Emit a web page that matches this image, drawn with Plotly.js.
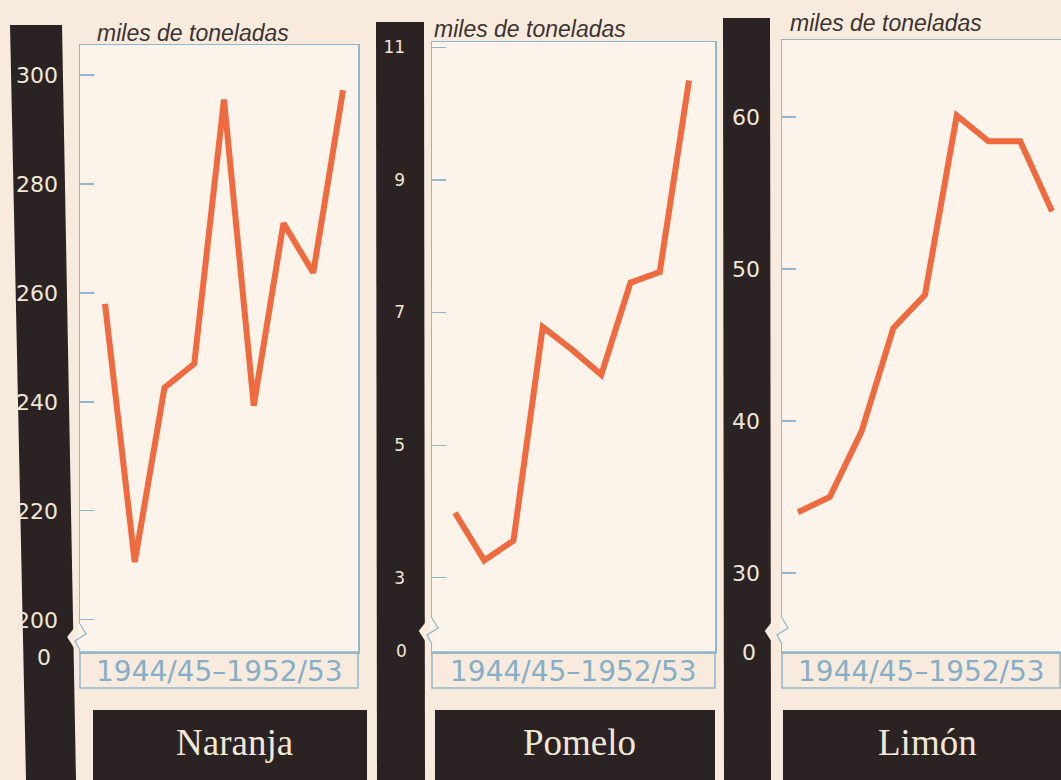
<!DOCTYPE html>
<html>
<head>
<meta charset="utf-8">
<script src="https://cdn.plot.ly/plotly-3.0.1.min.js"></script>
<style>html,body{margin:0;padding:0;background:#f8eadc;}#chart{width:1061px;height:780px;}</style>
</head>
<body>
<div id="chart"></div>
<script>
// ---- data ----
const seasons = ['1944/45','1945/46','1946/47','1947/48','1948/49','1949/50','1950/51','1951/52','1952/53'];
const naranja = [258, 210.6, 242.6, 247, 295.5, 239.3, 272.8, 263.7, 297.2];
const pomelo  = [3.98, 3.26, 3.56, 6.78, 6.44, 6.06, 7.45, 7.61, 10.5];
const limon   = [34.0, 35.0, 39.3, 46.1, 48.3, 60.1, 58.4, 58.4, 53.8];
const naranjaTicks = [200, 220, 240, 260, 280, 300];
const pomeloTicks  = [3, 5, 7, 9, 11];
const limonTicks   = [30, 40, 50, 60];
const fruitNames = ['Naranja', 'Pomelo', 'Limón'];
const unitLabel = 'miles de toneladas';
const periodLabel = '1944/45–1952/53';

// ---- styling ----
const W = 1061, H = 780;
const BG = '#f8ebde', PLOTBG = '#fcf3ea', DARK = '#2b2323', CREAM = '#f1e7d7';
const BLUE = '#93b6cb', LINE = '#ef6a3f';
const X = p => p / W, Y = p => 1 - p / H;
const pth = pts => pts.map((p, i) => (i ? 'L' : 'M') + X(p[0]).toFixed(5) + ',' + Y(p[1]).toFixed(5)).join(' ') + ' Z';
const pthOpen = pts => pts.map((p, i) => (i ? 'L' : 'M') + X(p[0]).toFixed(5) + ',' + Y(p[1]).toFixed(5)).join(' ');

const panels = [
  {name: fruitNames[0], vals: naranja, ticks: naranjaTicks, box: [80, 358, 45, 652], xr: [-0.84, 8.504], yr: [194.1, 305.5],
   tickSize: 22, standoff: 16, bar: [[10,25],[62,25],[76,780],[26,780]], zero: [44, 657], title: [95, 33],
   nameBox: [93, 367], nameX: 234, brk: [624, 650]},
  {name: fruitNames[1], vals: pomelo, ticks: pomeloTicks, box: [432, 715, 42, 652], xr: [-0.786, 8.889], yr: [1.88, 11.08],
   tickSize: 17, standoff: 22, bar: [[376,22],[424,22],[425,780],[377,780]], zero: [401, 651], title: [432, 29],
   nameBox: [435, 715], nameX: 579, brk: [618, 644]},
  {name: fruitNames[2], vals: limon, ticks: limonTicks, box: [782, 1061, 40, 652], xr: [-0.504, 8.283], yr: [24.8, 65.07],
   tickSize: 22, standoff: 16, bar: [[723,18],[770,18],[771,780],[724,780]], zero: [749, 652], title: [788, 23],
   nameBox: [783, 1061], nameX: 927, brk: [618, 644]}
];

const data = [], shapes = [], annotations = [];
const layout = {
  width: W, height: H, margin: {l: 0, r: 0, t: 0, b: 0},
  paper_bgcolor: BG, plot_bgcolor: PLOTBG, showlegend: false,
  font: {family: 'DejaVu Sans, sans-serif', color: CREAM}
};

panels.forEach((p, i) => {
  const n = i ? String(i + 1) : '';
  data.push({x: seasons, y: p.vals, type: 'scatter', mode: 'lines', xaxis: 'x' + n, yaxis: 'y' + n,
             line: {color: LINE, width: 6}, hoverinfo: 'x+y'});
  layout['xaxis' + n] = {domain: [X(p.box[0]), X(p.box[1])], anchor: 'y' + n, type: 'category', range: p.xr,
    showticklabels: false, ticks: '', showgrid: false, zeroline: false, showline: true, mirror: true,
    linecolor: BLUE, linewidth: 1.5, fixedrange: true};
  layout['yaxis' + n] = {domain: [Y(p.box[3]), Y(p.box[2])], anchor: 'x' + n, range: p.yr,
    tickvals: p.ticks, ticktext: p.ticks.map(String), ticks: 'inside', ticklen: 14, tickwidth: 1.2, tickcolor: BLUE,
    tickfont: {family: 'DejaVu Sans, sans-serif', size: p.tickSize, color: CREAM}, ticklabelstandoff: p.standoff,
    showgrid: false, zeroline: false, showline: true, mirror: true, linecolor: BLUE, linewidth: 1.5, fixedrange: true};

  // dark vertical scale bar
  shapes.push({type: 'path', xref: 'paper', yref: 'paper', layer: 'below', path: pth(p.bar), fillcolor: DARK, line: {width: 0}});
  // notch in the scale bar at the axis break
  const br = p.bar[1][0] + (p.bar[2][0] - p.bar[1][0]) * (p.brk[0] - p.bar[1][1]) / (p.bar[2][1] - p.bar[1][1]);
  shapes.push({type: 'path', xref: 'paper', yref: 'paper', layer: 'below',
    path: pth([[br + 1, p.brk[0] + 4], [br - 6, (p.brk[0] + p.brk[1]) / 2], [br + 1, p.brk[1] - 2]]), fillcolor: BG, line: {width: 0}});
  // axis break on the box edge
  const ax = p.box[0];
  shapes.push({type: 'rect', xref: 'paper', yref: 'paper', layer: 'above',
    x0: X(ax - 2), x1: X(ax + 2), y0: Y(p.brk[1]), y1: Y(p.brk[0]), fillcolor: PLOTBG, line: {width: 0}});
  shapes.push({type: 'path', xref: 'paper', yref: 'paper', layer: 'above',
    path: pthOpen([[ax, p.brk[0]], [ax + 6, p.brk[0] + 10], [ax - 5, p.brk[0] + 17], [ax, p.brk[1]]]),
    line: {color: BLUE, width: 1.3}});
  // period label box
  shapes.push({type: 'rect', xref: 'paper', yref: 'paper', layer: 'above',
    x0: X(p.box[0]), x1: X(Math.min(p.box[1], 1060)), y0: Y(688), y1: Y(652), line: {color: BLUE, width: 1.5}, fillcolor: 'rgba(0,0,0,0)'});
  // fruit name box
  shapes.push({type: 'rect', xref: 'paper', yref: 'paper', layer: 'below',
    x0: X(p.nameBox[0]), x1: X(p.nameBox[1]), y0: Y(780), y1: Y(710), fillcolor: DARK, line: {width: 0}});

  annotations.push({xref: 'paper', yref: 'paper', x: X(p.title[0]), y: Y(p.title[1]), xanchor: 'left', yanchor: 'middle',
    text: unitLabel, showarrow: false, font: {family: 'Liberation Sans, Arial, sans-serif', size: 23, style: 'italic', color: '#3b3232'}});
  annotations.push({xref: 'paper', yref: 'paper', x: X((p.box[0] + Math.min(p.box[1], 1060)) / 2), y: Y(671), xanchor: 'center', yanchor: 'middle',
    text: periodLabel, showarrow: false, font: {family: 'DejaVu Sans, sans-serif', size: 28, color: '#86aec7'}});
  annotations.push({xref: 'paper', yref: 'paper', x: X(p.zero[0]), y: Y(p.zero[1]), xanchor: 'center', yanchor: 'middle',
    text: '0', showarrow: false, font: {family: 'DejaVu Sans, sans-serif', size: p.tickSize, color: CREAM}});
  annotations.push({xref: 'paper', yref: 'paper', x: X(p.nameX), y: Y(742), xanchor: 'center', yanchor: 'middle',
    text: p.name, showarrow: false, font: {family: 'Liberation Serif, Times New Roman, serif', size: 37, color: CREAM}});
});

layout.shapes = shapes;
layout.annotations = annotations;
Plotly.newPlot('chart', data, layout, {displayModeBar: false, staticPlot: true});
</script>
</body>
</html>
